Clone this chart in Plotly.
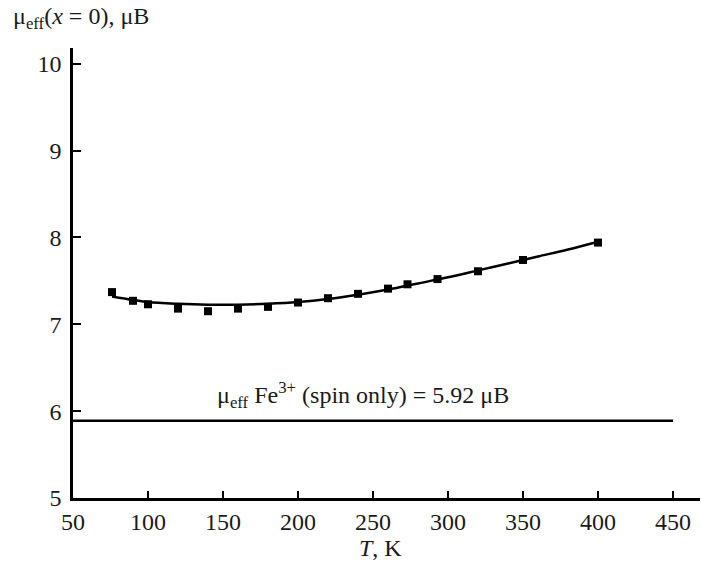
import plotly.graph_objects as go

# measured points
T_pts = [76, 90, 100, 120, 140, 160, 180, 200, 220, 240, 260, 273, 293, 320, 350, 400]
mu_pts = [7.37, 7.27, 7.23, 7.18, 7.15, 7.18, 7.20, 7.25, 7.30, 7.35, 7.41, 7.46, 7.52, 7.61, 7.74, 7.94]

# fitted curve
T_fit = [76, 90, 100, 120, 140, 160, 180, 200, 220, 240, 260, 280, 300, 320, 340, 360, 380, 400]
mu_fit = [7.32, 7.28, 7.255, 7.235, 7.225, 7.225, 7.235, 7.255, 7.29, 7.34, 7.40, 7.47, 7.54, 7.62, 7.70, 7.78, 7.86, 7.95]

# spin-only reference line
T_ref = [50, 450]
mu_ref = [5.89, 5.89]

x_ticks = [50, 100, 150, 200, 250, 300, 350, 400, 450]
y_ticks = [5, 6, 7, 8, 9, 10]

FONT = "Liberation Serif"
TXT = "#1a1a1a"
FS = 24

fig = go.Figure()
fig.add_trace(go.Scatter(x=T_ref, y=mu_ref, mode="lines",
                         line=dict(color="black", width=2.5), showlegend=False))
fig.add_trace(go.Scatter(x=T_fit, y=mu_fit, mode="lines", line_shape="spline",
                         line=dict(color="black", width=2.5), showlegend=False))
fig.add_trace(go.Scatter(x=T_pts, y=mu_pts, mode="markers",
                         marker=dict(symbol="square", size=8, color="black"),
                         showlegend=False))

fig.update_layout(
    width=701, height=574,
    margin=dict(l=73, r=1, t=48, b=76),
    plot_bgcolor="white", paper_bgcolor="white",
    font=dict(family=FONT, size=FS, color=TXT),
    xaxis=dict(range=[50, 468], tickvals=x_ticks, ticks="inside", ticklen=7,
               tickwidth=2, tickcolor="black", showline=True, linecolor="black",
               linewidth=2.5, showgrid=False, zeroline=False,
               tickfont=dict(family=FONT, size=FS, color=TXT)),
    yaxis=dict(range=[5, 10.18], tickvals=y_ticks, ticks="inside", ticklen=8,
               tickwidth=2, tickcolor="black", showline=True, linecolor="black",
               linewidth=2.5, showgrid=False, zeroline=False,
               ticklabelstandoff=4,
               tickfont=dict(family=FONT, size=FS, color=TXT)),
    annotations=[
        dict(text="μ<sub>eff</sub>(<i>x</i> = 0), μB", xref="paper", yref="paper",
             x=-0.099, y=1.067, xanchor="left", yanchor="middle", showarrow=False,
             font=dict(family=FONT, size=FS, color=TXT)),
        dict(text="<i>T</i>, K", xref="paper", yref="paper",
             x=0.49, y=-0.111, xanchor="center", yanchor="middle", showarrow=False,
             font=dict(family=FONT, size=FS, color=TXT)),
        dict(text="μ<sub>eff</sub> Fe<sup>3+</sup> (spin only) = 5.92 μB",
             x=243, y=6.19, xref="x", yref="y", xanchor="center", yanchor="middle",
             showarrow=False, font=dict(family=FONT, size=FS, color=TXT)),
    ],
)

fig.write_html("out.html")
